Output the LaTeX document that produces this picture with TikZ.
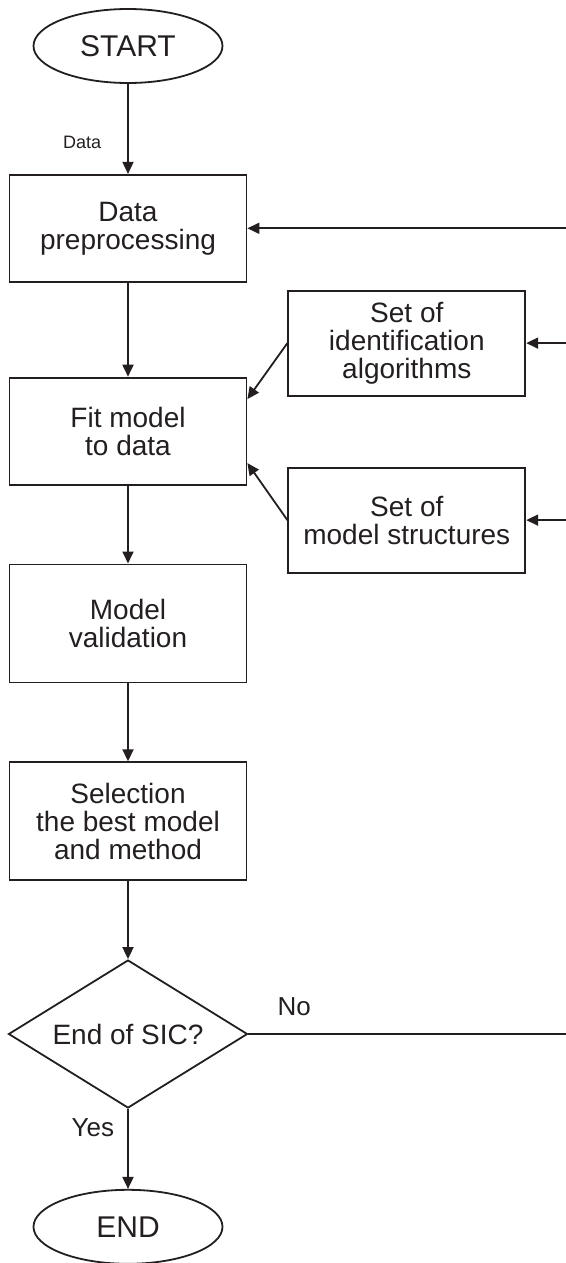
\documentclass[tikz,border=0pt]{standalone}
\usepackage{fontspec}
\setmainfont{Liberation Sans}
\usepackage{tikz}
\usetikzlibrary{arrows.meta,positioning,shapes.geometric}
\definecolor{ink}{HTML}{231F20}

\begin{document}
\begin{tikzpicture}[
  x=0.5pt,y=-0.5pt,
  font=\fontsize{14}{14}\selectfont,
  line/.style={line width=0.9pt,ink},
  box/.style={rectangle,draw=ink,line width=0.9pt,text=ink,
    minimum width=118.5pt,minimum height=53.5pt,align=center,inner sep=2pt},
  tallbox/.style={box,minimum height=59pt},
  sidebox/.style={box,minimum height=52.5pt},
  term/.style={ellipse,draw=ink,line width=0.9pt,text=ink,
    minimum width=94.5pt,minimum height=37pt,inner sep=0pt,
    font=\fontsize{15}{15}\selectfont},
  cond/.style={diamond,draw=ink,line width=0.9pt,text=ink,aspect=1.6,
    minimum width=119.5pt,minimum height=74pt,inner sep=0pt},
  arr/.style={line,-{Triangle[length=6pt,width=5.5pt]}},
  lbl/.style={inner sep=0pt,text=ink}]

\useasboundingbox (0,0) rectangle (566,1263);

\node[term] (start) at (128,46) {START};
\node[box,below=45pt of start] (prep) {Data\\preprocessing};
\node[box,below=47pt of prep] (fit) {Fit model\\to data};
\node[tallbox,below=39pt of fit] (valid) {Model\\validation};
\node[tallbox,below=39pt of valid] (sel) {Selection\\the best model\\and method};
\node[cond,below=39pt of sel] (endq) {End of SIC?};
\node[term,below=40pt of endq] (stop) {END};

\node[sidebox,right=20pt of fit,yshift=44pt] (algs) {Set of\\identification\\algorithms};
\node[sidebox,right=20pt of fit,yshift=-44.5pt] (structs) {Set of\\model structures};

\coordinate (edge) at (566,0);
\coordinate (back1) at (prep.east -| edge);
\coordinate (back2) at (algs.east -| edge);
\coordinate (back3) at (structs.east -| edge);
\coordinate (back4) at (endq.east -| edge);

\draw[arr] (start) -- node[lbl,left=13pt,pos=0.65,font=\fontsize{9}{9}\selectfont]{Data} (prep);
\draw[arr] (prep) -- (fit);
\draw[arr] (algs.west) -- (fit.15);
\draw[arr] (structs.west) -- (fit.-15);
\draw[arr] (fit) -- (valid);
\draw[arr] (valid) -- (sel);
\draw[arr] (sel) -- (endq);
\draw[arr] (endq) -- node[lbl,left=6.5pt,pos=0.23,font=\fontsize{13}{13}\selectfont]{Yes} (stop);
\draw[line] (endq) -- node[lbl,above=8.5pt,pos=0.144,font=\fontsize{13}{13}\selectfont]{No} (back4);

\draw[arr] (back1) -- (prep);
\draw[arr] (back2) -- (algs);
\draw[arr] (back3) -- (structs);
\end{tikzpicture}
\end{document}
